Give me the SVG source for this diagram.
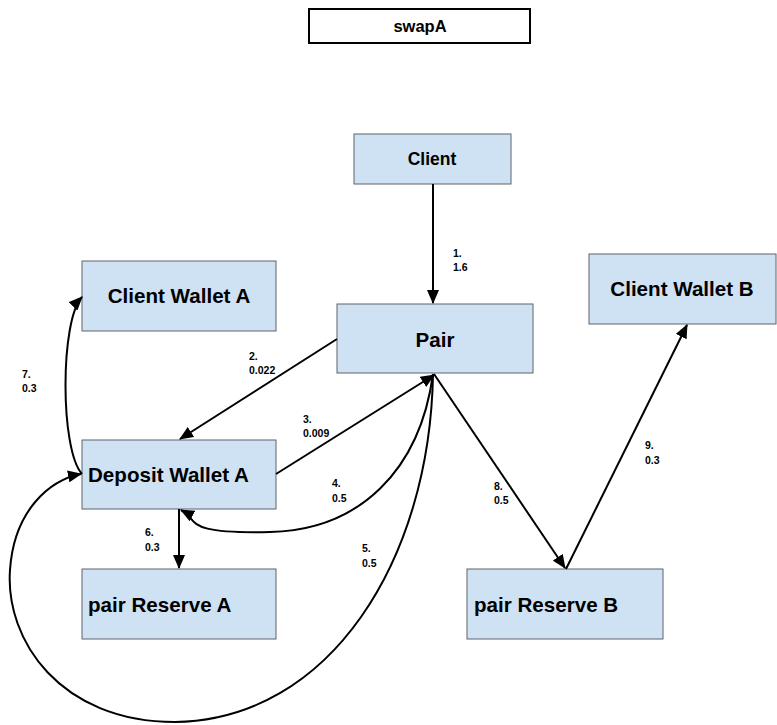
<svg xmlns="http://www.w3.org/2000/svg" width="777" height="725" viewBox="0 0 777 725">
  <style>
    .box { fill: #cfe2f3; stroke: #5f6368; stroke-width: 1; }
    .title { fill: #ffffff; stroke: #000000; stroke-width: 2; }
    .name { font-family: "Liberation Sans", Arial, sans-serif; font-weight: bold; font-size: 20.6px; fill: #000000; }
    .lbl { font-family: "Liberation Sans", Arial, sans-serif; font-weight: bold; font-size: 10.5px; fill: #000000; }
    .edge { fill: none; stroke: #000000; stroke-width: 2; marker-end: url(#arrow); }
  </style>
  <defs>
    <marker id="arrow" markerUnits="userSpaceOnUse" markerWidth="14" markerHeight="12" refX="13" refY="6" orient="auto">
      <path d="M0,0 L14,6 L0,12 z" fill="#000000"/>
    </marker>
  </defs>

  <rect width="777" height="725" fill="#ffffff"/>

  <g id="title">
    <rect class="title" x="309" y="9" width="221" height="34"/>
    <text class="name" x="420" y="32" text-anchor="middle" style="font-size:16.5px">swapA</text>
  </g>

  <g id="client">
    <rect class="box" x="354" y="134" width="157" height="50"/>
    <text class="name" x="432" y="165" text-anchor="middle" style="font-size:17.5px">Client</text>
  </g>

  <g id="pair">
    <rect class="box" x="337" y="304" width="196" height="69"/>
    <text class="name" x="435" y="347" text-anchor="middle">Pair</text>
  </g>

  <g id="client-wallet-a">
    <rect class="box" x="82" y="261" width="194" height="70"/>
    <text class="name" x="179" y="303" text-anchor="middle">Client Wallet A</text>
  </g>

  <g id="client-wallet-b">
    <rect class="box" x="589" y="254" width="187" height="70"/>
    <text class="name" x="682" y="296" text-anchor="middle">Client Wallet B</text>
  </g>

  <g id="deposit-wallet-a">
    <rect class="box" x="82" y="440" width="194" height="69"/>
    <text class="name" x="88" y="482">Deposit Wallet A</text>
  </g>

  <g id="pair-reserve-a">
    <rect class="box" x="82" y="569" width="194" height="70"/>
    <text class="name" x="88" y="612">pair Reserve A</text>
  </g>

  <g id="pair-reserve-b">
    <rect class="box" x="467" y="569" width="196" height="70"/>
    <text class="name" x="474" y="612">pair Reserve B</text>
  </g>

  <g id="connectors">
    <!-- 1: Client -> Pair -->
    <path class="edge" d="M433,184 L433,303"/>
    <!-- 2: Pair -> Deposit Wallet A -->
    <path class="edge" d="M337,339 L180,439"/>
    <!-- 3: Deposit Wallet A -> Pair -->
    <path class="edge" d="M276,474 L434,375"/>
    <!-- 4: Pair -> Deposit Wallet A (bottom) -->
    <path class="edge" d="M433,374 C420,470 360,530 270,532 S200,520 181,510"/>
    <!-- 5: Pair -> Deposit Wallet A (left), wide loop -->
    <path class="edge" d="M433,374 C430,560 330,720 175,722 C60,722 5,640 10,570 C14,510 50,480 81,474"/>
    <!-- 6: Deposit Wallet A -> pair Reserve A -->
    <path class="edge" d="M179,509 L179,568"/>
    <!-- 7: Deposit Wallet A -> Client Wallet A -->
    <path class="edge" d="M82,474 C60,450 60,320 82,297"/>
    <!-- 8: Pair -> pair Reserve B -->
    <path class="edge" d="M434,374 L565,568"/>
    <!-- 9: pair Reserve B -> Client Wallet B -->
    <path class="edge" d="M566,569 L687,325"/>
  </g>

  <g id="labels">
    <text class="lbl" x="453" y="257">1.</text>
    <text class="lbl" x="453" y="271">1.6</text>
    <text class="lbl" x="249" y="360">2.</text>
    <text class="lbl" x="249" y="374">0.022</text>
    <text class="lbl" x="303" y="423">3.</text>
    <text class="lbl" x="303" y="437">0.009</text>
    <text class="lbl" x="332" y="487">4.</text>
    <text class="lbl" x="332" y="502">0.5</text>
    <text class="lbl" x="362" y="552">5.</text>
    <text class="lbl" x="362" y="567">0.5</text>
    <text class="lbl" x="145" y="536">6.</text>
    <text class="lbl" x="145" y="551">0.3</text>
    <text class="lbl" x="22" y="378">7.</text>
    <text class="lbl" x="22" y="392">0.3</text>
    <text class="lbl" x="494" y="490">8.</text>
    <text class="lbl" x="494" y="504">0.5</text>
    <text class="lbl" x="645" y="449">9.</text>
    <text class="lbl" x="645" y="464">0.3</text>
  </g>
</svg>
